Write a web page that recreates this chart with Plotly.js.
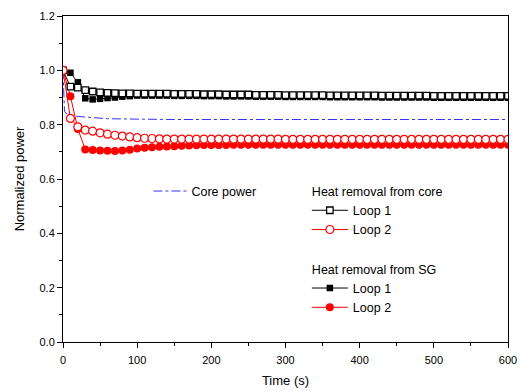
<!DOCTYPE html>
<html>
<head>
<meta charset="utf-8">
<script src="https://cdn.plot.ly/plotly-3.0.1.min.js"></script>
<style>html,body{margin:0;padding:0;background:#fff;}#chart{width:520px;height:391px;}</style>
</head>
<body>
<div id="chart"></div>
<script>
// Time samples (s) for marker series
const time = [
  0,10,20,30,40,50,60,70,80,90,
  100,110,120,130,140,150,160,170,180,190,
  200,210,220,230,240,250,260,270,280,290,
  300,310,320,330,340,350,360,370,380,390,
  400,410,420,430,440,450,460,470,480,490,
  500,510,520,530,540,550,560,570,580,590,
  600
];
// Heat removal from core, loop 1 (open squares)
const coreLoop1 = [
  1.000,0.940,0.936,0.927,0.922,0.919,0.917,0.916,0.915,0.915,
  0.914,0.914,0.914,0.914,0.914,0.913,0.913,0.913,0.913,0.912,
  0.912,0.912,0.911,0.911,0.911,0.911,0.910,0.910,0.910,0.910,
  0.909,0.909,0.909,0.909,0.909,0.909,0.908,0.908,0.908,0.908,
  0.908,0.908,0.908,0.907,0.907,0.907,0.907,0.907,0.907,0.907,
  0.906,0.906,0.906,0.906,0.906,0.906,0.906,0.906,0.906,0.906,
  0.906
];
// Heat removal from core, loop 2 (open circles)
const coreLoop2 = [
  1.000,0.823,0.792,0.780,0.776,0.770,0.765,0.761,0.758,0.755,
  0.752,0.750,0.749,0.748,0.747,0.747,0.747,0.747,0.747,0.747,
  0.747,0.747,0.747,0.747,0.747,0.747,0.747,0.747,0.747,0.747,
  0.746,0.746,0.746,0.746,0.746,0.746,0.746,0.746,0.746,0.746,
  0.746,0.746,0.746,0.746,0.746,0.746,0.746,0.746,0.746,0.746,
  0.746,0.746,0.746,0.746,0.746,0.746,0.746,0.746,0.746,0.746,
  0.746
];
// Heat removal from SG, loop 1 (filled squares)
const sgLoop1 = [
  1.000,0.991,0.956,0.897,0.893,0.895,0.898,0.900,0.903,0.905,
  0.907,0.907,0.907,0.907,0.907,0.906,0.906,0.906,0.906,0.905,
  0.905,0.905,0.904,0.904,0.904,0.904,0.903,0.903,0.903,0.903,
  0.902,0.902,0.902,0.902,0.902,0.902,0.901,0.901,0.901,0.901,
  0.901,0.901,0.901,0.900,0.900,0.900,0.900,0.900,0.900,0.900,
  0.899,0.899,0.899,0.899,0.899,0.899,0.899,0.899,0.899,0.899,
  0.899
];
// Heat removal from SG, loop 2 (filled circles)
const sgLoop2 = [
  1.000,0.905,0.784,0.709,0.707,0.705,0.704,0.703,0.705,0.708,
  0.712,0.715,0.717,0.719,0.720,0.721,0.722,0.723,0.724,0.725,
  0.725,0.725,0.725,0.726,0.726,0.726,0.726,0.726,0.726,0.726,
  0.726,0.726,0.726,0.726,0.726,0.726,0.726,0.726,0.726,0.726,
  0.726,0.726,0.726,0.726,0.726,0.726,0.726,0.726,0.726,0.726,
  0.726,0.726,0.726,0.726,0.726,0.726,0.726,0.726,0.726,0.726,
  0.726
];
// Core power (dash-dot line)
const coreTime  = [0,1,2,4,6,8,10,15,20,30,40,50,60,80,100,150,200,300,400,500,600];
const corePower = [1.000,0.900,0.850,0.842,0.839,0.837,0.835,0.832,0.830,0.828,0.826,0.824,0.822,0.821,0.820,0.819,0.819,0.819,0.819,0.819,0.819];

const font = "Arial, 'Liberation Sans', sans-serif";

const traces = [
  {x: time, y: sgLoop1, name: "Loop 1", mode: "lines+markers", legend: "legend2",
   legendgroup: "sg", legendgrouptitle: {text: "Heat removal from SG", font: {size: 12.5, color: "#000"}},
   legendrank: 3,
   line: {color: "#000", width: 1},
   marker: {symbol: "square", size: 6.5, color: "#000"}},
  {x: time, y: sgLoop2, name: "Loop 2", mode: "lines+markers", legend: "legend2",
   legendgroup: "sg", legendrank: 4,
   line: {color: "#ff0000", width: 1},
   marker: {symbol: "circle", size: 8, color: "#ff0000"}},
  {x: coreTime, y: corePower, name: "Core power", mode: "lines", legend: "legend",
   line: {color: "#3333ff", width: 1, dash: "dashdot"}},
  {x: time, y: coreLoop1, name: "Loop 1", mode: "lines+markers", legend: "legend2",
   legendgroup: "core", legendgrouptitle: {text: "Heat removal from core", font: {size: 12.5, color: "#000"}},
   legendrank: 1,
   line: {color: "#000", width: 1},
   marker: {symbol: "square", size: 6.5, color: "#fff", line: {color: "#000", width: 1.3}}},
  {x: time, y: coreLoop2, name: "Loop 2", mode: "lines+markers", legend: "legend2",
   legendgroup: "core", legendrank: 2,
   line: {color: "#ff0000", width: 1},
   marker: {symbol: "circle", size: 8, color: "#fff", line: {color: "#ff0000", width: 1.2}}}
];

const layout = {
  width: 520, height: 391,
  margin: {l: 63, r: 12, t: 16, b: 49},
  paper_bgcolor: "#fff", plot_bgcolor: "#fff",
  font: {family: font, size: 12, color: "#000"},
  showlegend: true,
  xaxis: {
    range: [0, 600], dtick: 100, tick0: 0,
    showgrid: false, zeroline: false,
    showline: true, linecolor: "#000", linewidth: 1, mirror: true,
    ticks: "outside", ticklen: 5, tickcolor: "#000",
    minor: {dtick: 50, ticks: "outside", ticklen: 3, tickcolor: "#000"},
    tickfont: {size: 11}, ticklabelstandoff: 3,
    title: {text: "Time (s)", font: {size: 13}, standoff: 10}
  },
  yaxis: {
    range: [0, 1.2], dtick: 0.2, tick0: 0, tickformat: ".1f",
    showgrid: false, zeroline: false,
    showline: true, linecolor: "#000", linewidth: 1, mirror: true,
    ticks: "outside", ticklen: 5, tickcolor: "#000",
    minor: {dtick: 0.1, ticks: "outside", ticklen: 3, tickcolor: "#000"},
    tickfont: {size: 11},
    title: {text: "Normalized power", font: {size: 13}, standoff: 11}
  },
  legend: {
    x: 0.192, y: 0.508, xanchor: "left", yanchor: "top",
    bgcolor: "rgba(0,0,0,0)", borderwidth: 0,
    font: {size: 12.5}, itemwidth: 33, tracegroupgap: 0
  },
  legend2: {
    x: 0.548, y: 0.508, xanchor: "left", yanchor: "top",
    bgcolor: "rgba(0,0,0,0)", borderwidth: 0,
    font: {size: 12.5}, itemwidth: 36, tracegroupgap: 20,
    traceorder: "grouped"
  }
};

Plotly.newPlot("chart", traces, layout, {displayModeBar: false, staticPlot: true});
</script>
</body>
</html>
